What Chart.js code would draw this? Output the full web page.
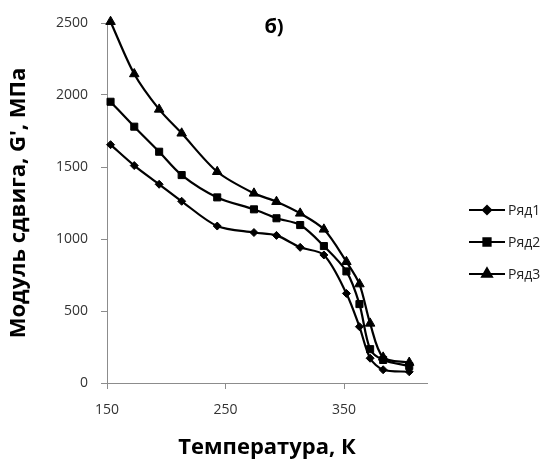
<!DOCTYPE html>
<html>
<head>
<meta charset="utf-8">
<script src="https://cdn.jsdelivr.net/npm/chart.js@4"></script>
<style>
  html, body { margin: 0; padding: 0; background: #fff; }
  #wrap { width: 552px; height: 461px; }
</style>
</head>
<body>
<div id="wrap"><canvas id="chart-g" width="552" height="461"></canvas></div>
<script>
var temps = [153, 173, 194, 213, 243, 274, 293, 313, 333, 352, 363, 372, 383, 405];
var row1 = [1655, 1510, 1380, 1262, 1090, 1045, 1025, 942, 889, 622, 391, 172, 92, 78];
var row2 = [1953, 1780, 1606, 1444, 1289, 1206, 1144, 1097, 951, 775, 548, 235, 160, 118];
var row3 = [2509, 2146, 1900, 1734, 1467, 1317, 1259, 1178, 1067, 842, 687, 414, 178, 142];
var seriesNames = ["Ряд1", "Ряд2", "Ряд3"];
var xTicks = [150, 250, 350];
var yTicks = [0, 500, 1000, 1500, 2000, 2500];

function toPoints(ys) {
  return ys.map(function (y, i) {
    return { x: temps[i], y: y };
  });
}

var markers = [
  { style: "rectRot", radius: 4 },
  { style: "rect", radius: 5 },
  { style: "triangle", radius: 5.5 },
];

function makeDataset(name, values, m) {
  return {
    label: name,
    data: toPoints(values),
    showLine: true,
    tension: 0.3,
    clip: false,
    borderColor: "#000",
    backgroundColor: "#000",
    borderWidth: 2.2,
    pointStyle: m.style,
    pointRadius: m.radius,
    pointBorderWidth: 1,
    pointBackgroundColor: "#000",
    pointBorderColor: "#000",
  };
}

var axisColor = "#8c8c8c";
var tickFont = { size: 14, family: "Open Sans" };

function plainLabel(v) {
  return String(v);
}

// legend and panel label drawn by hand
var extras = {
  id: "extras",
  afterDraw: function (chart) {
    var ctx = chart.ctx;
    ctx.save();
    ctx.font = "bold 20px 'Open Sans'";
    ctx.fillStyle = "#000";
    ctx.textAlign = "center";
    ctx.textBaseline = "middle";
    ctx.fillText("б)", 274, 27);

    ctx.font = "14px 'Open Sans'";
    ctx.textAlign = "left";
    chart.data.datasets.forEach(function (ds, i) {
      var y = 210 + i * 32;
      ctx.strokeStyle = "#000";
      ctx.lineWidth = 2.2;
      ctx.beginPath();
      ctx.moveTo(469, y);
      ctx.lineTo(505, y);
      ctx.stroke();
      Chart.helpers.drawPoint(ctx, {
        pointStyle: ds.pointStyle,
        radius: ds.pointRadius,
        borderWidth: 1,
      }, 487, y);
      ctx.fillStyle = "#000";
      ctx.fill();
      ctx.fillStyle = "#222";
      ctx.fillText(ds.label, 508, y + 1);
    });
    ctx.restore();
  },
};

var ctx = document.getElementById("chart-g").getContext("2d");
var chart = new Chart(ctx, {
  type: "scatter",
  data: {
    datasets: [
      makeDataset(seriesNames[0], row1, markers[0]),
      makeDataset(seriesNames[1], row2, markers[1]),
      makeDataset(seriesNames[2], row3, markers[2]),
    ],
  },
  options: {
    responsive: false,
    animation: false,
    layout: {
      padding: { top: 23, right: 125, left: 0, bottom: 0 },
    },
    plugins: {
      legend: { display: false },
      tooltip: { enabled: false },
    },
    scales: {
      x: {
        type: "linear",
        min: 150,
        max: 420,
        afterBuildTicks: function (scale) {
          scale.ticks = xTicks.map(function (v) { return { value: v }; });
        },
        afterFit: function (scale) {
          scale.height = 461 - 383;
        },
        border: { display: true, color: axisColor, width: 1 },
        grid: {
          display: true,
          drawOnChartArea: false,
          drawTicks: true,
          tickLength: 6,
          color: axisColor,
        },
        ticks: {
          color: "#333",
          font: tickFont,
          padding: 13,
          maxRotation: 0,
          callback: plainLabel,
        },
        title: {
          display: true,
          text: "Температура, К",
          color: "#000",
          font: { size: 22, weight: "bold", family: "Open Sans" },
          padding: { top: 6, bottom: 0 },
        },
      },
      y: {
        min: 0,
        max: 2500,
        afterBuildTicks: function (scale) {
          scale.ticks = yTicks.map(function (v) { return { value: v }; });
        },
        afterFit: function (scale) {
          scale.width = 107;
        },
        border: { display: true, color: axisColor, width: 1 },
        grid: {
          display: true,
          drawOnChartArea: false,
          drawTicks: true,
          tickLength: 6,
          color: axisColor,
        },
        ticks: {
          color: "#333",
          font: tickFont,
          padding: 13,
          callback: plainLabel,
        },
        title: {
          display: true,
          text: "Модуль сдвига, G', МПа",
          color: "#000",
          font: { size: 22, weight: "bold", family: "Open Sans" },
          padding: { top: 6, bottom: 0 },
        },
      },
    },
  },
  plugins: [extras],
});
</script>
</body>
</html>
